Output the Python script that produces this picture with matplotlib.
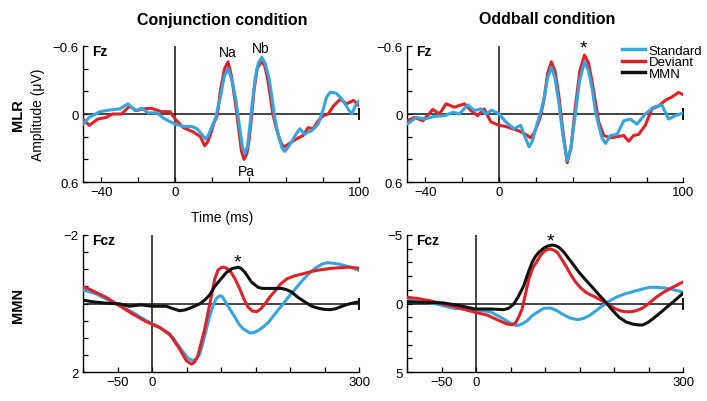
import matplotlib
matplotlib.use('Agg')
import matplotlib.pyplot as plt
import numpy as np

plt.rcParams['font.family'] = ['Liberation Sans', 'DejaVu Sans']

BLUE = '#36a5de'
RED = '#e02128'
BLACK = '#111111'

# ---- MLR, conjunction condition (time ms, amplitude uV)
conj_mlr_std = [(-50, 0.09), (-46.6, 0.03), (-41, -0.02), (-35.6, -0.035), (-30, -0.045), (-25.6, -0.09),
                (-21.9, -0.03), (-18.2, -0.05), (-14.7, -0.01), (-10, -0.01), (-5.5, 0.045), (0, 0.09),
                (4.5, 0.11), (9, 0.11), (11.9, 0.13), (14.5, 0.18), (16.4, 0.22), (18, 0.19), (19.5, 0.13),
                (22, 0.03), (24.7, -0.16), (26.6, -0.33), (28.7, -0.40), (30.8, -0.30), (32.9, -0.13),
                (35, 0.12), (36.6, 0.30), (37.9, 0.35), (39.3, 0.28), (40.6, 0.10), (42, -0.12), (43.5, -0.32),
                (45.1, -0.45), (47, -0.50), (49, -0.44), (51, -0.31), (52.5, -0.15), (53.9, 0.015), (55.2, 0.13),
                (56.6, 0.22), (58, 0.30), (59.4, 0.33), (61, 0.30), (63, 0.25), (65.5, 0.18), (67.6, 0.13),
                (70.3, 0.18), (72, 0.16), (74, 0.15), (77.6, 0.09), (80.4, -0.045), (82.2, -0.15), (84, -0.19),
                (86, -0.19), (87.7, -0.18), (90, -0.14), (92.2, -0.09), (94, -0.04), (95.9, 0), (97.7, -0.07),
                (100, -0.12)]
conj_mlr_dev = [(-50, 0.045), (-46.6, 0.10), (-42, 0.045), (-37.4, 0.03), (-34, 0), (-29, 0), (-24.7, -0.07),
                (-21, -0.03), (-17.4, -0.045), (-12.8, -0.05), (-7.3, -0.02), (-2.7, -0.02), (0, 0.045),
                (4.5, 0.12), (10, 0.16), (13.7, 0.2), (16, 0.28), (17.5, 0.25), (19, 0.19), (21, 0.08),
                (22.8, 0.015), (24.7, -0.22), (26.8, -0.40), (28.7, -0.46), (30.6, -0.33), (32.9, -0.07),
                (34.7, 0.16), (36, 0.33), (37.4, 0.40), (38.9, 0.35), (40.2, 0.22), (41.6, 0.0), (42.9, -0.22),
                (44.5, -0.40), (47, -0.47), (48.7, -0.42), (50.2, -0.31), (51.6, -0.16), (53, 0), (54.8, 0.12),
                (56.6, 0.22), (58, 0.27), (59.4, 0.29), (62, 0.26), (65.8, 0.22), (69.4, 0.19), (72.2, 0.12),
                (74.9, 0.13), (77.6, 0.06), (80.4, 0.015), (83, 0), (85.9, -0.07), (89.5, -0.13), (93, -0.09),
                (96.8, -0.12), (100, -0.07)]

# ---- MLR, oddball condition
odd_mlr_std = [(-50, 0.09), (-45, 0.03), (-40.5, 0.045), (-35, 0.02), (-29.7, 0.015), (-25, -0.015),
               (-21.6, 0), (-17, -0.08), (-13.5, -0.03), (-9.9, -0.045), (-7.2, 0), (-4.1, -0.035), (0, 0),
               (3.6, 0.07), (8.1, 0.13), (11.7, 0.10), (14, 0.2), (16.2, 0.29), (18, 0.24), (19.8, 0.13),
               (22.5, -0.015), (24.3, -0.13), (26.3, -0.32), (28.3, -0.41), (30.3, -0.32), (32.4, -0.10),
               (34.5, 0.18), (36.9, 0.41), (38.9, 0.30), (41.4, 0.0), (43.5, -0.28), (46.3, -0.46),
               (48.5, -0.38), (50.5, -0.22), (52.3, -0.02), (54, 0.10), (55.8, 0.21), (57.7, 0.26),
               (60.4, 0.19), (64, 0.18), (67.6, 0.06), (71.2, 0.045), (74.8, 0.09), (79.3, 0), (83.8, -0.06),
               (88.3, -0.08), (91.9, 0.045), (95.5, 0.015), (100, -0.01)]
odd_mlr_dev = [(-50, 0.06), (-45.9, 0.03), (-41.4, 0.06), (-36, -0.04), (-32.4, 0), (-28.8, -0.09),
               (-24.3, -0.06), (-18.9, -0.09), (-15.3, -0.03), (-11.7, 0.015), (-8.1, -0.045), (-4.5, 0.07),
               (0, 0.10), (3.6, 0.11), (7.2, 0.13), (10.8, 0.15), (14.4, 0.18), (17.1, 0.21), (18.9, 0.17),
               (20.7, 0.10), (22.3, 0.03), (24.3, -0.12), (26.3, -0.36), (28.3, -0.46), (30.3, -0.38),
               (32.4, -0.16), (34.6, 0.15), (36.9, 0.43), (39, 0.30), (41.4, -0.07), (43.8, -0.38),
               (46.3, -0.52), (48.5, -0.45), (50.5, -0.28), (52.3, -0.10), (54, 0.07), (56.8, 0.19),
               (60.4, 0.21), (64, 0.20), (67.6, 0.19), (70.3, 0.24), (73, 0.19), (75.7, 0.18), (79.3, 0.10),
               (82.9, -0.045), (86.5, -0.07), (90.1, -0.12), (93.7, -0.15), (97.3, -0.19), (100, -0.17)]

# ---- MMN, conjunction condition
conj_mmn_std = [(-100, -0.40), (-81, -0.28), (-52, 0.01), (-28, 0.26), (-8.6, 0.50), (10.8, 0.70), (30, 0.99),
                (44.6, 1.41), (52, 1.60), (59.2, 1.67), (64, 1.62), (68.9, 1.47), (73.5, 1.15), (78.6, 0.74),
                (83.5, 0.35), (88.2, 0.06), (93, -0.15), (98, -0.23), (101.5, -0.20), (105.2, -0.08),
                (112, 0.15), (119.8, 0.40), (125.5, 0.60), (131.8, 0.74), (141.6, 0.86), (147, 0.85),
                (153.6, 0.79), (161, 0.68), (168.2, 0.55), (178, 0.30), (187.6, 0.06), (197, -0.18),
                (207, -0.42), (216, -0.64), (226.3, -0.86), (236, -1.03), (245.8, -1.15), (253, -1.19),
                (260.3, -1.18), (270, -1.15), (279.6, -1.10), (290, -1.04), (300, -0.96)]
conj_mmn_dev = [(-100, -0.50), (-86, -0.37), (-66.7, -0.18), (-47.4, 0.06), (-28, 0.31), (-8.6, 0.53),
                (10.8, 0.70), (25.3, 0.89), (39.8, 1.33), (49.5, 1.67), (56.8, 1.77), (61, 1.72), (66.4, 1.52),
                (71, 1.15), (76.2, 0.74), (81, 0.25), (85.9, -0.23), (90.7, -0.72), (95.5, -0.98),
                (101, -1.06), (106, -1.05), (112.5, -0.96), (120, -0.72), (127, -0.42), (133, -0.12),
                (139, 0.11), (145, 0.22), (151.3, 0.24), (157, 0.16), (163.4, 0.01), (170, -0.18),
                (178, -0.37), (186, -0.57), (195, -0.72), (205, -0.80), (216.7, -0.86), (236, -0.96),
                (260.3, -1.03), (284.4, -1.06), (300, -1.03)]
conj_mmn_diff = [(-100, -0.10), (-86, -0.05), (-66.7, -0.01), (-47, 0.01), (-33, 0.08), (-16, 0.04), (0, 0.08),
                 (20.5, 0.08), (30, 0.15), (39.8, 0.21), (47, 0.19), (54.4, 0.14), (61, 0.08), (68.9, 0.01),
                 (76, -0.10), (83.4, -0.25), (90.7, -0.50), (98, -0.68), (107.7, -0.91), (116, -1.02),
                 (124.6, -1.06), (129, -1.02), (134.3, -0.91), (144, -0.62), (153.6, -0.47), (160, -0.44),
                 (168.2, -0.44), (178, -0.44), (187.6, -0.44), (195, -0.40), (202.2, -0.33), (211, -0.18),
                 (221.5, -0.04), (231, 0.08), (240.8, 0.14), (249, 0.17), (257.8, 0.18), (266, 0.15),
                 (274.9, 0.08), (282, 0.03), (289.4, -0.01), (300, -0.05)]

# ---- MMN, oddball condition
odd_mmn_std = [(-100, -0.28), (-81, -0.13), (-57, 0.04), (-32.7, 0.35), (-2, 0.45), (20.6, 0.60), (40, 1.13),
               (50, 1.45), (59.3, 1.62), (66, 1.5), (73.8, 1.26), (81, 0.9), (88.4, 0.64), (98, 0.35),
               (107.8, 0.33), (116, 0.5), (124.7, 0.77), (135, 1.05), (146.5, 1.18), (155, 1.1), (163.5, 0.89),
               (173, 0.55), (182.9, 0.16), (192, -0.15), (202.3, -0.45), (214, -0.68), (226.4, -0.86),
               (238, -1.02), (250.7, -1.18), (262, -1.18), (275, -1.11), (288, -0.98), (300, -0.82)]
odd_mmn_dev = [(-100, -0.45), (-86, -0.38), (-66.6, -0.20), (-47, 0.04), (-28, 0.28), (-2, 0.64), (15.7, 0.84),
               (30.2, 1.18), (44.8, 1.50), (52, 1.55), (57, 1.42), (61.5, 1.0), (66.6, 0.40), (71.5, -0.7),
               (76.3, -1.79), (82, -2.6), (88.4, -3.1), (93, -3.5), (98, -3.78), (103, -3.95), (107.8, -3.98),
               (112, -3.9), (117.4, -3.74), (123, -3.3), (129.7, -2.76), (137, -2.1), (144.2, -1.55),
               (151, -1.15), (158.7, -0.82), (166, -0.62), (173.3, -0.45), (180, -0.25), (187.8, -0.04),
               (195, 0.2), (202.3, 0.40), (210, 0.55), (216.9, 0.60), (224, 0.60), (231.4, 0.53), (239, 0.38),
               (246, 0.16), (253, -0.14), (260.5, -0.45), (270, -0.78), (279.8, -1.06), (290, -1.33),
               (300, -1.59)]
odd_mmn_diff = [(-100, -0.13), (-81, -0.09), (-47, -0.04), (-23, 0.16), (-2, 0.40), (20.6, 0.40), (40, 0.45),
                (47, 0.35), (54.5, 0.04), (61, -0.5), (69, -1.30), (75, -2.2), (81, -3.0), (86, -3.45),
                (90.8, -3.74), (98, -4.05), (104, -4.2), (110.3, -4.27), (115, -4.22), (120, -4.10),
                (127, -3.75), (134.4, -3.25), (142, -2.75), (149, -2.28), (158, -1.75), (168.3, -1.18),
                (178, -0.62), (187.8, -0.09), (197, 0.48), (207, 1.01), (217, 1.35), (226.4, 1.50), (234, 1.56),
                (241, 1.57), (248, 1.4), (255.5, 1.13), (263, 0.82), (270, 0.53), (277, 0.22), (284.6, -0.09),
                (292, -0.42), (300, -0.77)]

mlr_yticks = [-0.6, -0.4, -0.2, 0, 0.2, 0.4, 0.6]
mlr_xticks = [-40, -20, 0, 20, 40, 60, 80, 100]
mmn_xticks = [-100, -50, 0, 50, 100, 150, 200, 250, 300]
bl_yticks = [-2, -1.5, -1, -0.5, 0, 0.5, 1, 1.5, 2]
br_yticks = [-5, -4, -3, -2, -1, 0, 1, 2, 3, 4, 5]


def series(ax, pts, color):
    t, v = zip(*pts)
    ax.plot(t, v, color=color, lw=2.2, solid_capstyle='round', solid_joinstyle='round', zorder=3)


def fmt(vals, shown):
    return [(str(v).replace('-', '\u2212') if v in shown else '') for v in vals]


def setup(ax, xlim, ylim, xticks, xshown, yticks, yshown, site):
    ax.set_xlim(*xlim)
    ax.set_ylim(ylim[1], ylim[0])  # negative up
    for s in ['top', 'right']:
        ax.spines[s].set_visible(False)
    for s in ['left', 'bottom']:
        ax.spines[s].set_linewidth(1.0)
    ax.set_xticks(xticks)
    ax.set_xticklabels(fmt(xticks, xshown))
    ax.set_yticks(yticks)
    ax.set_yticklabels(fmt(yticks, yshown))
    ax.tick_params(direction='in', length=3.5, width=0.9, labelsize=9.5, pad=3)
    ax.axhline(0, color=BLACK, lw=1.1, zorder=2)
    ax.axvline(0, color=BLACK, lw=1.1, zorder=2)
    ax.plot([xlim[1]], [0], marker='|', color=BLACK, ms=9, mew=1.4, clip_on=False, zorder=2)
    ax.text(0.033, 0.965, site, transform=ax.transAxes, fontsize=10, fontweight='bold', va='center', ha='left')


fig = plt.figure(figsize=(7.07, 4.02), dpi=100)
W = 0.391
ax1 = fig.add_axes([83 / 707, 1 - 183 / 402, W, 136 / 402])
ax2 = fig.add_axes([407 / 707, 1 - 183 / 402, W, 136 / 402])
ax3 = fig.add_axes([83 / 707, 1 - 373 / 402, W, 137 / 402])
ax4 = fig.add_axes([407 / 707, 1 - 373 / 402, W, 137 / 402])

setup(ax1, (-50, 100), (-0.6, 0.6), mlr_xticks, [-40, 0, 100], mlr_yticks, [-0.6, 0, 0.6], 'Fz')
setup(ax2, (-50, 100), (-0.6, 0.6), mlr_xticks, [-40, 0, 100], mlr_yticks, [-0.6, 0, 0.6], 'Fz')
setup(ax3, (-100, 300), (-2, 2), mmn_xticks, [-50, 0, 300], bl_yticks, [-2, 2], 'Fcz')
setup(ax4, (-100, 300), (-5, 5), mmn_xticks, [-50, 0, 300], br_yticks, [-5, 0, 5], 'Fcz')

series(ax1, conj_mlr_dev, RED)
series(ax1, conj_mlr_std, BLUE)
series(ax2, odd_mlr_dev, RED)
series(ax2, odd_mlr_std, BLUE)
series(ax3, conj_mmn_std, BLUE)
series(ax3, conj_mmn_dev, RED)
series(ax3, conj_mmn_diff, BLACK)
series(ax4, odd_mmn_std, BLUE)
series(ax4, odd_mmn_dev, RED)
series(ax4, odd_mmn_diff, BLACK)

# peak labels and significance marks
ax1.text(28.5, -0.55, 'Na', fontsize=10, ha='center', va='center')
ax1.text(46.6, -0.58, 'Nb', fontsize=10, ha='center', va='center')
ax1.text(38.4, 0.50, 'Pa', fontsize=10, ha='center', va='center')
ax2.text(46, -0.58, '*', fontsize=14, ha='center', va='center')
ax3.text(124, -1.22, '*', fontsize=14, ha='center', va='center')
ax4.text(107, -4.55, '*', fontsize=14, ha='center', va='center')

fig.text(222 / 707, 1 - 20 / 402, 'Conjunction condition', fontsize=11.5, fontweight='bold', ha='center', va='center')
fig.text(547 / 707, 1 - 20 / 402, 'Oddball condition', fontsize=11.5, fontweight='bold', ha='center', va='center')
fig.text(222 / 707, 1 - 218 / 402, 'Time (ms)', fontsize=10, ha='center', va='center')
fig.text(18 / 707, 1 - 115 / 402, 'MLR', fontsize=10.5, fontweight='bold', rotation=90, ha='center', va='center')
fig.text(38 / 707, 1 - 115 / 402, 'Amplitude (\u03bcV)', fontsize=10, rotation=90, ha='center', va='center')
fig.text(18 / 707, 1 - 305 / 402, 'MMN', fontsize=10.5, fontweight='bold', rotation=90, ha='center', va='center')

handles = [plt.Line2D([], [], color=BLUE, lw=2.5),
           plt.Line2D([], [], color=RED, lw=2.5),
           plt.Line2D([], [], color=BLACK, lw=2.5)]
fig.legend(handles, ['Standard', 'Deviant', 'MMN'], loc='upper left', bbox_to_anchor=(615 / 707, 1 - 39 / 402),
           frameon=False, fontsize=9.5, handlelength=1.75, handletextpad=0.3, labelspacing=-0.05, borderpad=0)

fig.savefig('out.png', dpi=100)
